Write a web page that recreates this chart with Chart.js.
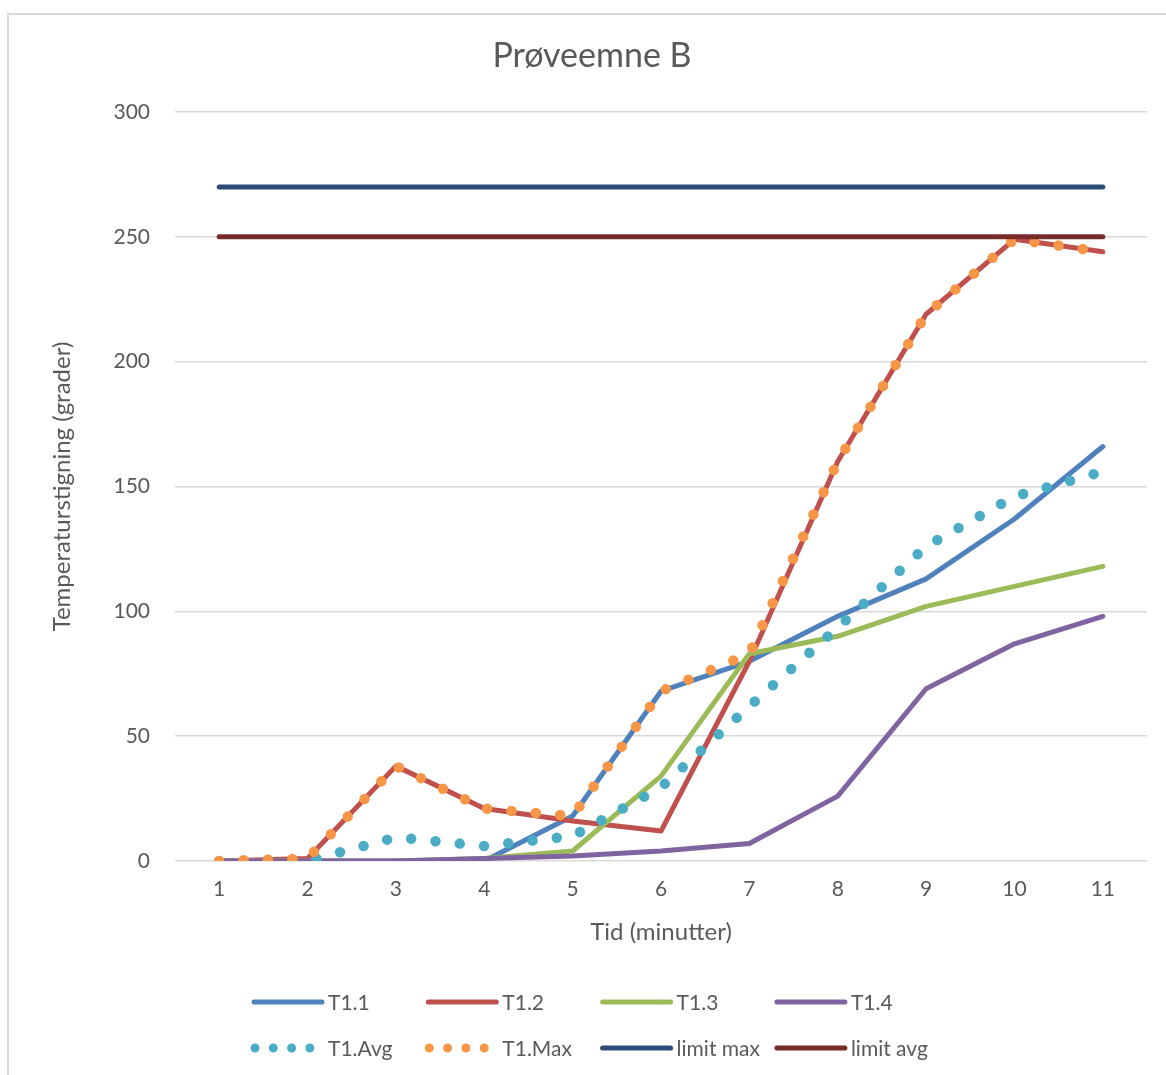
<!DOCTYPE html>
<html>
<head>
<meta charset="utf-8">
<script src="https://cdn.jsdelivr.net/npm/chart.js@4/dist/chart.umd.min.js"></script>
<style>
  body { margin: 0; background: #fff; }
  #frame {
    position: absolute; left: 7px; top: 13px;
    width: 1175px; height: 1080px;
    border: 2px solid #d9d9d9;
  }
  #wrap { position: absolute; left: 0; top: 0; width: 1166px; height: 1065px; }
</style>
</head>
<body>
<div id="frame">
  <div id="wrap"><canvas id="chart"></canvas></div>
</div>
<script>
const labels = ['1', '2', '3', '4', '5', '6', '7', '8', '9', '10', '11'];

const t11 = [0, 0, 0, 0, 18, 68, 80, 98, 113, 137, 166];
const t12 = [0, 1, 38, 21, 16, 12, 80, 160, 219, 249, 244];
const t13 = [0, 0, 0, 1, 4, 34, 83, 90, 102, 110, 118];
const t14 = [0, 0, 0, 1, 2, 4, 7, 26, 69, 87, 98];
const t1Avg = [0, 0, 9.5, 6, 10, 29.5, 62, 93.5, 126, 146, 156];
const t1Max = [0, 1, 38, 21, 18, 68, 83, 160, 219, 249, 244];
const limitMax = [270, 270, 270, 270, 270, 270, 270, 270, 270, 270, 270];
const limitAvg = [250, 250, 250, 250, 250, 250, 250, 250, 250, 250, 250];

const yTicks = [0, 50, 100, 150, 200, 250, 300];

const textColor = '#595959';
Chart.defaults.font.family = 'Lato, "Open Sans", sans-serif';
Chart.defaults.color = textColor;

function solid(label, data, color, order) {
    return {
        label: label, data: data, borderColor: color, backgroundColor: color,
        borderWidth: 5, pointRadius: 0, tension: 0,
        borderCapStyle: 'round', borderJoinStyle: 'round', order: order
    };
}

function dotted(label, data, color, order) {
    return {
        label: label, data: data, borderColor: color, backgroundColor: color,
        borderWidth: 10.5, pointRadius: 0, tension: 0,
        borderDash: [0, 24.4], borderCapStyle: 'round', borderJoinStyle: 'round',
        order: order, dotted: true
    };
}

// legend drawn by hand: Excel puts 4 items per row
const bottomLegend = {
    id: 'bottomLegend',
    afterDraw(chart) {
        const ctx = chart.ctx;
        const x0 = chart.width / 2 - 340;
        const y0 = chart.chartArea.bottom + 141;
        const colW = 174.3, rowH = 46;
        chart.data.datasets.forEach((ds, i) => {
            const x = x0 + (i % 4) * colW;
            const y = y0 + Math.floor(i / 4) * rowH;
            ctx.save();
            ctx.strokeStyle = ds.borderColor;
            ctx.lineCap = 'round';
            ctx.beginPath();
            if (ds.dotted) {
                ctx.lineWidth = 9;
                ctx.setLineDash([0, 18.3]);
                ctx.moveTo(x + 3, y);
                ctx.lineTo(x + 62, y);
            } else {
                ctx.lineWidth = 5;
                ctx.setLineDash([]);
                ctx.moveTo(x + 2, y);
                ctx.lineTo(x + 70, y);
            }
            ctx.stroke();
            ctx.setLineDash([]);
            ctx.fillStyle = textColor;
            ctx.font = '21px Lato, "Open Sans", sans-serif';
            ctx.textBaseline = 'middle';
            ctx.textAlign = 'left';
            ctx.fillText(ds.label, x + 76, y + 1);
            ctx.restore();
        });
    }
};

new Chart(document.getElementById('chart'), {
    type: 'line',
    data: {
        labels: labels,
        datasets: [
            solid('T1.1', t11, '#4f81bd', 8),
            solid('T1.2', t12, '#c0504d', 7),
            solid('T1.3', t13, '#9bbb59', 6),
            solid('T1.4', t14, '#8064a2', 5),
            dotted('T1.Avg', t1Avg, '#4bacc6', 4),
            dotted('T1.Max', t1Max, '#f79646', 3),
            solid('limit max', limitMax, '#2c4d75', 2),
            solid('limit avg', limitAvg, '#772c2a', 1)
        ]
    },
    options: {
        responsive: true,
        maintainAspectRatio: false,
        animation: false,
        layout: { padding: { left: 28, right: 28, top: 0, bottom: 129 } },
        plugins: {
            legend: { display: false },
            tooltip: { enabled: false },
            title: {
                display: true,
                text: 'Prøveemne B',
                color: textColor,
                font: { size: 34, weight: 'normal' },
                padding: { top: 21, bottom: 35.2 }
            }
        },
        scales: {
            x: {
                type: 'category',
                offset: true,
                grid: { display: false, drawTicks: false },
                border: { display: false },
                ticks: { padding: 16, font: { size: 21 }, color: textColor, maxRotation: 0 },
                title: {
                    display: true, text: 'Tid (minutter)', color: textColor,
                    font: { size: 24 }, padding: { top: 0, bottom: 4.6 }
                },
                afterFit: s => { s.height = 90; }
            },
            y: {
                min: 0,
                max: 300,
                afterBuildTicks: s => { s.ticks = yTicks.map(v => ({ value: v })); },
                grid: { color: '#d9d9d9', lineWidth: 1.5, drawTicks: false },
                border: { display: false },
                ticks: { padding: 25, font: { size: 21 }, color: textColor },
                title: {
                    display: true, text: 'Temperaturstigning (grader)', color: textColor,
                    font: { size: 24 }, padding: { top: 10.6, bottom: 0 }
                },
                afterFit: s => { s.width = 138; }
            }
        }
    },
    plugins: [bottomLegend]
});
</script>
</body>
</html>
